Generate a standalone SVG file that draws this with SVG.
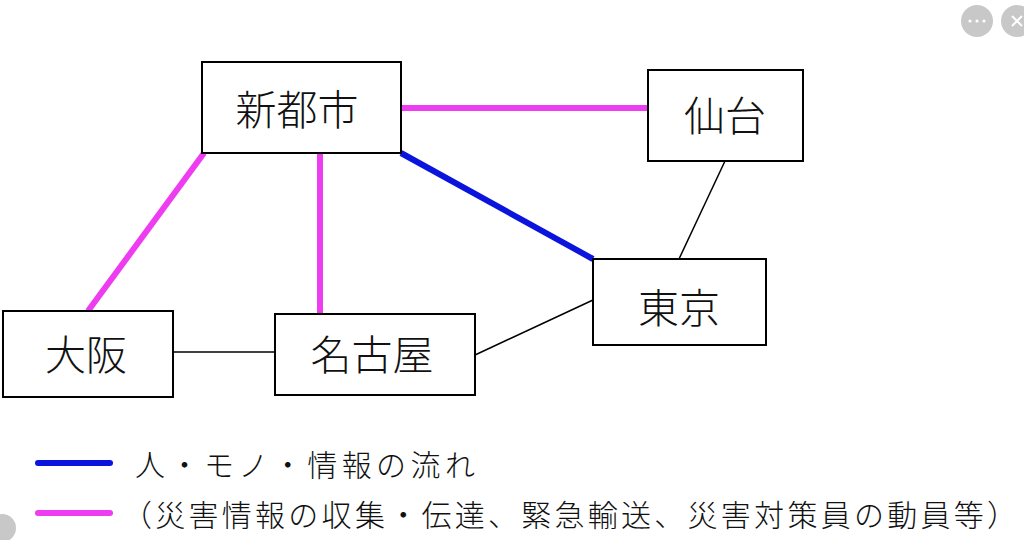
<svg xmlns="http://www.w3.org/2000/svg" width="1024" height="540" viewBox="0 0 1024 540">
<style>
.box{fill:#fff;stroke:#000;stroke-width:2}
.lbl{font-family:"Noto Sans CJK JP","Noto Sans CJK SC",sans-serif;font-size:41px;font-weight:300;fill:#111;text-anchor:middle;dominant-baseline:central}
.leg{font-family:"Noto Sans CJK JP","Noto Sans CJK SC",sans-serif;font-size:30px;font-weight:300;fill:#111;dominant-baseline:central}
.mag{stroke:#ee3cf0;stroke-width:6;fill:none}
.blu{stroke:#0a14dc;stroke-width:6;fill:none}
.thin{stroke:#000;stroke-width:1.5;fill:none}
.ui{fill:#c8c8c8}
</style>
<rect width="1024" height="540" fill="#fff"/>
<g id="connectors">
<line class="mag" x1="401" y1="108" x2="648" y2="108"/>
<line class="mag" x1="204" y1="153" x2="88" y2="311"/>
<line class="mag" x1="320" y1="153" x2="320" y2="314"/>
<line class="blu" x1="401" y1="153" x2="593" y2="259"/>
<line class="thin" x1="725" y1="161" x2="679" y2="259"/>
<line class="thin" x1="173" y1="352" x2="275" y2="352"/>
<line class="thin" x1="475" y1="355" x2="593" y2="300"/>
</g>
<g id="shintoshi"><rect class="box" x="202" y="62" width="199" height="91"/><text class="lbl" x="297" y="107">新都市</text></g>
<g id="sendai"><rect class="box" x="648" y="70" width="155" height="91"/><text class="lbl" x="725" y="113">仙台</text></g>
<g id="tokyo"><rect class="box" x="593" y="259" width="173" height="86"/><text class="lbl" x="679" y="305">東京</text></g>
<g id="osaka"><rect class="box" x="3" y="311" width="170" height="86"/><text class="lbl" x="86" y="352">大阪</text></g>
<g id="nagoya"><rect class="box" x="275" y="314" width="200" height="81"/><text class="lbl" x="372" y="352">名古屋</text></g>
<g id="legend">
<line class="blu" x1="38" y1="463" x2="110" y2="463" stroke-linecap="round"/>
<text class="leg" x="135" y="463" textLength="340" lengthAdjust="spacing">人・モノ・情報の流れ</text>
<line class="mag" x1="38" y1="513" x2="110" y2="513" stroke-linecap="round"/>
<text class="leg" x="122" y="513" textLength="895" lengthAdjust="spacing">（災害情報の収集・伝達、緊急輸送、災害対策員の動員等）</text>
</g>
<g id="ui">
<circle class="ui" cx="977" cy="21" r="16"/>
<circle cx="970" cy="21" r="1.6" fill="#fff"/><circle cx="977" cy="21" r="1.6" fill="#fff"/><circle cx="984" cy="21" r="1.6" fill="#fff"/>
<circle class="ui" cx="1017" cy="21" r="16"/>
<path d="M1012 16 L1022 26 M1022 16 L1012 26" stroke="#fff" stroke-width="2"/>
<circle class="ui" cx="2" cy="528" r="14"/>
</g>
</svg>
